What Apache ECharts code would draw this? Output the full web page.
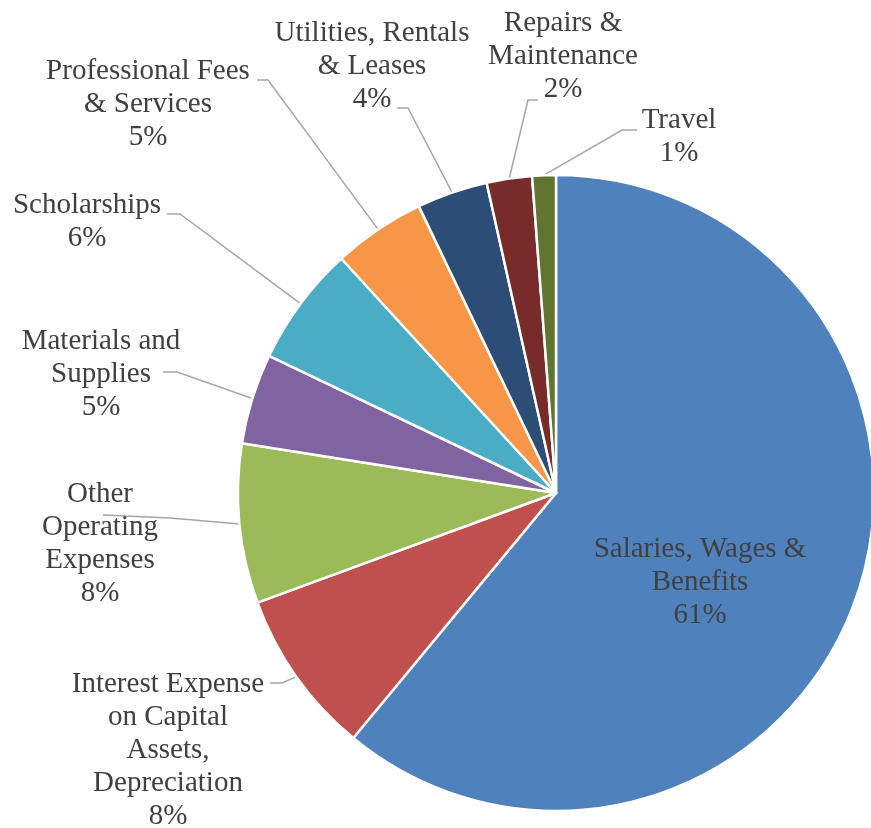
<!DOCTYPE html>
<html>
<head>
<meta charset="utf-8">
<script src="https://cdn.jsdelivr.net/npm/echarts@6/dist/echarts.min.js"></script>
<style>
  html, body { margin: 0; padding: 0; background: #fff; }
  #chart { width: 871px; height: 828px; }
</style>
</head>
<body>
<div id="chart"></div>
<script>
// categories, clockwise from 12 o'clock
var categories = [
  'Salaries, Wages &\nBenefits',
  'Interest Expense\non Capital\nAssets,\nDepreciation',
  'Other\nOperating\nExpenses',
  'Materials and\nSupplies',
  'Scholarships',
  'Professional Fees\n& Services',
  'Utilities, Rentals\n& Leases',
  'Repairs &\nMaintenance',
  'Travel'
];
var values = [61.0, 8.4, 8.1, 4.6, 6.1, 4.7, 3.6, 2.3, 1.2];
var colors = ['#4F81BD', '#C0504D', '#9BBB59', '#8064A2', '#4BACC6', '#F79646', '#2C4D75', '#772C2A', '#5F7530'];

// label block centres
var labelPos = [
  [700, 582], [168, 750], [100, 544], [101, 374], [87, 222],
  [148, 104], [372, 66], [563, 56], [679, 137]
];
// leader line: bend point, end point (next to label)
var leaderPts = [
  null,
  [[282, 683], [270, 683]],
  [[170, 518], [103, 515]],
  [[177, 372], [163, 372]],
  [[180, 214], [167, 214]],
  [[268, 80], [257, 80]],
  [[408, 108], [397, 108]],
  [[528, 100], [538, 100]],
  [[622, 130], [637, 130]]
];

var chart = echarts.init(document.getElementById('chart'));

var data = categories.map(function (name, i) {
  var item = { name: name, value: values[i], itemStyle: { color: colors[i] } };
  if (i === 0) {
    item.label = { position: 'inside' };
    item.labelLine = { show: false };
  }
  return item;
});

chart.setOption({
  animation: false,
  series: [{
    type: 'pie',
    center: [556, 493],
    radius: 318,
    startAngle: 90,
    clockwise: true,
    avoidLabelOverlap: false,
    emphasis: { disabled: true },
    itemStyle: { borderColor: '#fff', borderWidth: 2.5 },
    label: {
      show: true,
      position: 'outside',
      fontFamily: 'Liberation Serif',
      fontSize: 29,
      lineHeight: 33,
      color: '#404040',
      align: 'center',
      formatter: function (p) {
        return p.name + '\n' + Math.round(p.percent) + '%';
      }
    },
    labelLine: {
      show: true,
      length: 20,
      length2: 10,
      lineStyle: { color: '#A6A6A6', width: 1.5 }
    },
    labelLayout: function (p) {
      var i = p.dataIndex;
      var out = {
        x: labelPos[i][0],
        y: labelPos[i][1],
        align: 'center',
        verticalAlign: 'middle'
      };
      if (leaderPts[i] && p.labelLinePoints) {
        out.labelLinePoints = [p.labelLinePoints[0], leaderPts[i][0], leaderPts[i][1]];
      }
      return out;
    },
    data: data
  }]
});
</script>
</body>
</html>
